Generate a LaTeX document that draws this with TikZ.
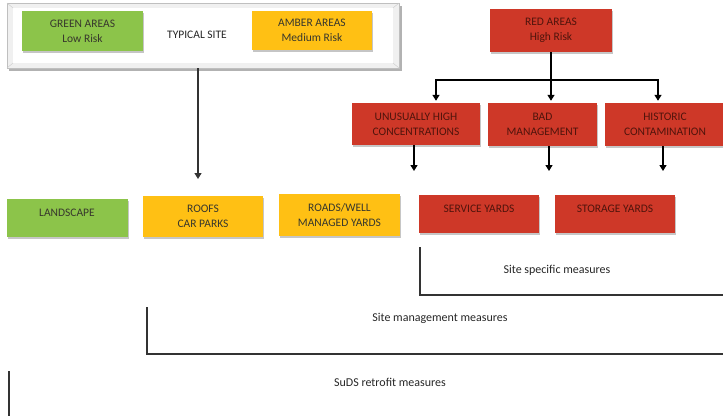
\documentclass[tikz,border=0pt]{standalone}
\usepackage{fontspec}
\setmainfont{Carlito}
\usetikzlibrary{arrows.meta,shadows}
\definecolor{boxgreen}{RGB}{140,196,74}
\definecolor{boxamber}{RGB}{255,192,20}
\definecolor{boxred}{RGB}{206,56,40}
\definecolor{txtdark}{RGB}{55,55,45}
\definecolor{txtred}{RGB}{80,20,12}
\tikzset{
  x=1pt,y=-1pt,
  riskbox/.style={minimum width=#1,inner sep=0pt,align=center,font=\fontsize{11.5}{15}\selectfont,
    drop shadow={opacity=0.45,shadow xshift=1pt,shadow yshift=-2pt}},
  gbox/.style={riskbox=121pt,fill=boxgreen,text=txtdark},
  abox/.style={riskbox=120pt,fill=boxamber,text=txtdark},
  rbox/.style={riskbox=#1,fill=boxred,text=txtred},
  arr/.style={line width=1.3pt,-{Triangle[width=7pt,length=6pt]}},
  plain/.style={line width=1.3pt},
  brk/.style={line width=1.1pt,black!80},
  lbl/.style={font=\fontsize{12}{14}\selectfont,text=black!85},
}
\begin{document}
\begin{tikzpicture}
\useasboundingbox (0,0) rectangle (723,416);
% typical site frame (bevelled)
\fill[black!30] (9,6) rectangle (402,71);
\filldraw[fill=black!6,draw=black!25] (7,3) rectangle (399,68);
\fill[white] (13,8) rectangle (393,63);
\draw[black!20] (7,3) -- (13,8) (399,3) -- (393,8) (7,68) -- (13,63) (399,68) -- (393,63);
\coordinate (frame) at (198,68);
% top row
\node[gbox,minimum height=40pt] (green) at (82.5,31) {GREEN AREAS\\Low Risk};
\node[lbl,font=\fontsize{11.5}{13}\selectfont] (typical) at (197,35) {TYPICAL SITE};
\node[abox,minimum height=39pt] (amber) at (312,30.5) {AMBER AREAS\\Medium Risk};
\node[rbox=122pt,minimum height=43pt] (red) at (551,30.5) {RED AREAS\\High Risk};
% second row
\node[rbox=128pt,minimum height=42pt] (uh) at (416,124) {UNUSUALLY HIGH\\CONCENTRATIONS};
\node[rbox=109pt,minimum height=43pt] (bm) at (542.5,124.5) {BAD\\MANAGEMENT};
\node[rbox=120pt,minimum height=43pt] (hc) at (665,124.5) {HISTORIC\\CONTAMINATION};
% third row
\node[gbox,minimum height=38pt,text depth=10pt] (land) at (67,217.5) {LANDSCAPE};
\node[abox,minimum height=41pt] (roofs) at (203,216.5) {ROOFS\\CAR PARKS};
\node[abox,minimum height=42pt,minimum width=121pt] (roads) at (339.5,215) {ROADS/WELL\\MANAGED YARDS};
\node[rbox=120pt,minimum height=38pt,text depth=10pt] (service) at (479,214) {SERVICE YARDS};
\node[rbox=120pt,minimum height=38pt,text depth=10pt] (storage) at (615,214) {STORAGE YARDS};
% connectors
\coordinate (bus) at (551,80);
\draw[plain] (red.south) -- (bus);
\draw[arr,shorten >=2pt] (bus) -| (uh.north -| 436,0);
\draw[arr,shorten >=2pt] (bus) -- (red.south |- uh.north);
\draw[arr,shorten >=2pt] (bus) -| (hc.north -| 658,0);
\coordinate (t1) at (414,171);
\coordinate (t2) at (549,171);
\coordinate (t3) at (663,171);
\coordinate (t0) at (198,179);
\draw[arr] (uh.south -| t1) -- (t1);
\draw[arr] (bm.south -| t2) -- (t2);
\draw[arr] (hc.south -| t3) -- (t3);
\draw[arr,line width=1.2pt,black!80] (frame) -- (t0);
% measure brackets
\draw[brk] (420,247) -- (420,295) -- (723,295);
\node[lbl] (ssm) at (557,270) {Site specific measures};
\draw[brk] (147,307) -- (147,354) -- (723,354);
\node[lbl] (smm) at (440,318) {Site management measures};
\draw[brk] (9,371) -- (9,416);
\node[lbl] (srm) at (390,382) {SuDS retrofit measures};
\end{tikzpicture}
\end{document}
